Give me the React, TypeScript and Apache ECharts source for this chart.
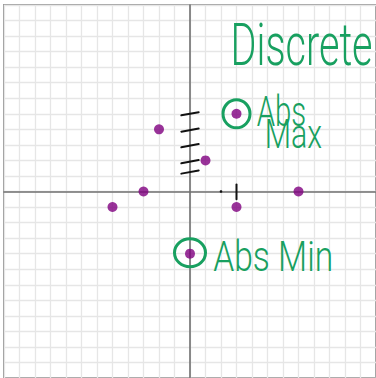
import React, { useEffect, useRef } from "react";
import * as echarts from "echarts";

// data points (discrete function)
const pointsX: number[] = [-5, -3, -2, 0, 1, 3, 3, 7];
const pointsY: number[] = [-1, 0, 4, -4, 2, 5, -1, 0];

// axis ranges
const xMin = -12;
const xMax = 12;
const yMin = -12;
const yMax = 12;

// circled extrema (absolute max, absolute min)
const circledX: number[] = [3, 0];
const circledY: number[] = [5, -4];

// annotation texts with anchor (data coords: left edge, vertical middle)
const noteTexts: string[] = ["Discrete", "Abs", "Max", "Abs Min"];
const noteX: number[] = [2.62, 4.3, 4.82, 1.5];
const noteY: number[] = [9.45, 5.15, 3.7, -4.2];

// hand-drawn dashes next to the y-axis (data y of each)
const dashY: number[] = [5.0, 3.95, 2.95, 1.92, 1.25];

const GREEN = "#18a060";
const PURPLE = "#800080";

export default function App() {
  const ref = useRef<HTMLDivElement>(null);

  useEffect(() => {
    document.body.style.margin = "0";
    if (!ref.current) return;
    const chart = echarts.init(ref.current, undefined, { renderer: "svg" });

    const data = pointsX.map((x, i) => [x, pointsY[i]]);

    chart.setOption({
      animation: false,
      backgroundColor: "#ffffff",
      grid: {
        left: 4,
        top: 5,
        width: 374,
        height: 374,
        show: true,
        borderColor: "#9a9a9a",
        borderWidth: 2,
        backgroundColor: "transparent",
      },
      xAxis: {
        type: "value",
        min: xMin,
        max: xMax,
        interval: 1,
        axisLabel: { show: false },
        axisTick: { show: false },
        axisLine: { show: true, onZero: true, lineStyle: { color: "#707070", width: 1.6 } },
        splitLine: { show: true, lineStyle: { color: "#e6e6e6", width: 1.3 } },
      },
      yAxis: {
        type: "value",
        min: yMin,
        max: yMax,
        interval: 1,
        axisLabel: { show: false },
        axisTick: { show: false },
        axisLine: { show: true, onZero: true, lineStyle: { color: "#707070", width: 1.6 } },
        splitLine: { show: true, lineStyle: { color: "#e6e6e6", width: 1.3 } },
      },
      series: [
        {
          type: "scatter",
          data,
          symbol: "circle",
          symbolSize: 10,
          itemStyle: { color: PURPLE },
          z: 5,
        },
      ],
    });

    const px = (x: number, y: number) => chart.convertToPixel({ gridIndex: 0 }, [x, y]) as number[];

    const graphics: any[] = [];

    // dashes near the y-axis
    dashY.forEach((y) => {
      const a = px(-0.56, y - 0.1);
      const b = px(0.56, y + 0.1);
      graphics.push({
        type: "line",
        shape: { x1: a[0], y1: a[1], x2: b[0], y2: b[1] },
        style: { stroke: "#111", lineWidth: 2, lineCap: "round" },
        z: 10,
      });
    });

    // tick mark on x-axis at x=3
    {
      const a = px(3, 0.45);
      const b = px(3, -0.5);
      graphics.push({
        type: "line",
        shape: { x1: a[0], y1: a[1], x2: b[0], y2: b[1] },
        style: { stroke: "#111", lineWidth: 2, lineCap: "round" },
        z: 10,
      });
      const d = px(2, 0);
      graphics.push({
        type: "circle",
        shape: { cx: d[0], cy: d[1], r: 1.3 },
        style: { fill: "#111" },
        z: 10,
      });
    }

    // green circles around extrema
    circledX.forEach((x, i) => {
      const c = px(x, circledY[i]);
      graphics.push({
        type: "ellipse",
        shape: { cx: c[0], cy: c[1] - (i === 1 ? 1 : 0), rx: i === 0 ? 13.5 : 15.5, ry: 14 },
        style: { stroke: GREEN, lineWidth: 3, fill: "none" },
        z: 9,
      });
    });

    // handwritten notes
    const sizes = [60, 42, 40, 42];
    const scales = [0.66, 0.7, 0.76, 0.8];
    noteTexts.forEach((t, i) => {
      const p = px(noteX[i], noteY[i]);
      graphics.push({
        type: "text",
        x: p[0],
        y: p[1],
        scaleX: scales[i],
        style: {
          text: t,
          fill: GREEN,
          fontFamily: "Roboto",
          fontWeight: 300,
          fontSize: sizes[i],
          textAlign: "left",
          textVerticalAlign: "middle",
        },
        z: 11,
      });
    });

    chart.setOption({ graphic: graphics });

    return () => chart.dispose();
  }, []);

  return <div ref={ref} style={{ width: 376, height: 378 }} />;
}
